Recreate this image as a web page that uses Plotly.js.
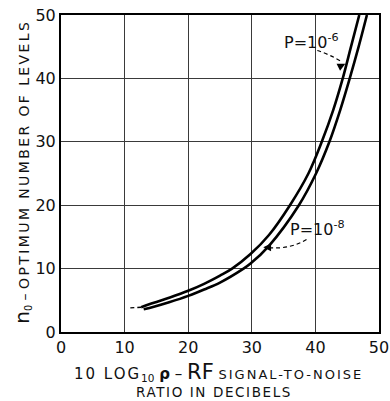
<!DOCTYPE html>
<html>
<head>
<meta charset="utf-8">
<script src="https://cdn.plot.ly/plotly-3.0.1.min.js"></script>
<style>html,body{margin:0;padding:0;background:#fff;}#chart{width:390px;height:401px;}</style>
</head>
<body>
<div id="chart"></div>
<script>
// P = 10^-6 curve (left / upper)
const p6X = [12.6, 14.6, 17.0, 20.0, 22.5, 25.0, 26.9, 29.8, 32.7, 36.0, 38.9, 41.0, 42.8, 44.3, 45.6, 46.9];
const p6Y = [3.9, 4.6, 5.4, 6.5, 7.6, 8.9, 10.0, 12.3, 15.3, 20.0, 25.0, 30.0, 35.0, 40.0, 45.0, 50.0];
// dashed extension of the P = 10^-6 curve
const p6ExtX = [10.9, 12.6];
const p6ExtY = [3.8, 3.9];
// P = 10^-8 curve (right / lower)
const p8X = [13.0, 14.6, 17.0, 20.0, 22.5, 25.0, 28.7, 29.8, 32.7, 37.4, 40.1, 42.2, 43.9, 45.4, 46.8, 48.1];
const p8Y = [3.6, 4.0, 4.7, 5.7, 6.7, 7.8, 10.0, 10.8, 13.6, 20.0, 25.0, 30.0, 35.0, 40.0, 45.0, 50.0];
// ticks
const xTicks = [0, 10, 20, 30, 40, 50];
const yTicks = [0, 10, 20, 30, 40, 50];

const FONT = 'DejaVu Sans, Arial, sans-serif';

const traces = [
  {x: p6X, y: p6Y, mode: 'lines', line: {color: '#000', width: 2.6, shape: 'spline', smoothing: 1}, hoverinfo: 'skip'},
  {x: p6ExtX, y: p6ExtY, mode: 'lines', line: {color: '#000', width: 1.4, dash: '4px,3px'}, hoverinfo: 'skip'},
  {x: p8X, y: p8Y, mode: 'lines', line: {color: '#000', width: 2.6, shape: 'spline', smoothing: 1}, hoverinfo: 'skip'}
];

const layout = {
  width: 390, height: 401,
  margin: {l: 61, r: 11, t: 15, b: 69},
  paper_bgcolor: '#fff', plot_bgcolor: '#fff',
  showlegend: false,
  font: {family: FONT, color: '#111'},
  xaxis: {
    range: [0, 50], tickvals: xTicks, ticktext: xTicks.map(String),
    showgrid: true, gridcolor: '#3a3a3a', gridwidth: 1.3,
    zeroline: false, showline: true, linecolor: '#000', linewidth: 2, mirror: true,
    ticks: '', tickfont: {family: FONT, size: 16, color: '#111'}, fixedrange: true
  },
  yaxis: {
    range: [0, 50], tickvals: yTicks, ticktext: yTicks.map(String),
    showgrid: true, gridcolor: '#3a3a3a', gridwidth: 1.3,
    zeroline: false, showline: true, linecolor: '#000', linewidth: 2, mirror: true,
    ticks: '', tickfont: {family: FONT, size: 16, color: '#111'}, fixedrange: true
  },
  shapes: [
    {type: 'path', xref: 'x', yref: 'y', path: 'M 40.3 44.4 Q 42.2 43.8 44.2 42.6',
     line: {color: '#000', width: 1.2, dash: '4px,3px'}},
    {type: 'path', xref: 'x', yref: 'y', path: 'M 38.6 14.6 Q 36.0 13.0 32.6 13.3',
     line: {color: '#000', width: 1.2, dash: '4px,3px'}}
  ],
  annotations: [
    {xref: 'x', yref: 'y', x: 39.4, y: 45.8, text: 'P=10<sup>-6</sup>', showarrow: false,
     font: {family: FONT, size: 16, color: '#111'}},
    {xref: 'x', yref: 'y', x: 40.4, y: 16.3, text: 'P=10<sup>-8</sup>', showarrow: false,
     font: {family: FONT, size: 16, color: '#111'}},
    {xref: 'x', yref: 'y', x: 44.7, y: 42.3, text: '', showarrow: true, arrowhead: 2, arrowsize: 1.3,
     arrowwidth: 1.2, arrowcolor: '#000', ax: -5, ay: 2.5},
    {xref: 'x', yref: 'y', x: 31.8, y: 13.35, text: '', showarrow: true, arrowhead: 2, arrowsize: 1.3,
     arrowwidth: 1.2, arrowcolor: '#000', ax: 6, ay: 0},
    {xref: 'paper', yref: 'paper', x: -0.123, y: 0.505, xanchor: 'center', yanchor: 'middle',
     textangle: -90, showarrow: false,
     text: '<span style="font-size:20px">n</span><sub>0</sub> – <span style="letter-spacing:2.4px">OPTIMUM NUMBER OF LEVELS</span>',
     font: {family: FONT, size: 14, color: '#111'}},
    {xref: 'paper', yref: 'paper', x: 0.494, y: -0.126, xanchor: 'center', yanchor: 'middle', showarrow: false,
     text: '<span style="letter-spacing:2px">10 LOG</span><sub>10</sub> <b>ρ</b> – <span style="font-size:21px">RF</span> <span style="font-size:13px;letter-spacing:2px">SIGNAL-TO-NOISE</span>',
     font: {family: FONT, size: 15, color: '#111'}},
    {xref: 'paper', yref: 'paper', x: 0.481, y: -0.189, xanchor: 'center', yanchor: 'middle', showarrow: false,
     text: '<span style="letter-spacing:1.6px">RATIO IN DECIBELS</span>',
     font: {family: FONT, size: 13.5, color: '#111'}}
  ]
};

Plotly.newPlot('chart', traces, layout, {displayModeBar: false, staticPlot: true});
</script>
</body>
</html>
